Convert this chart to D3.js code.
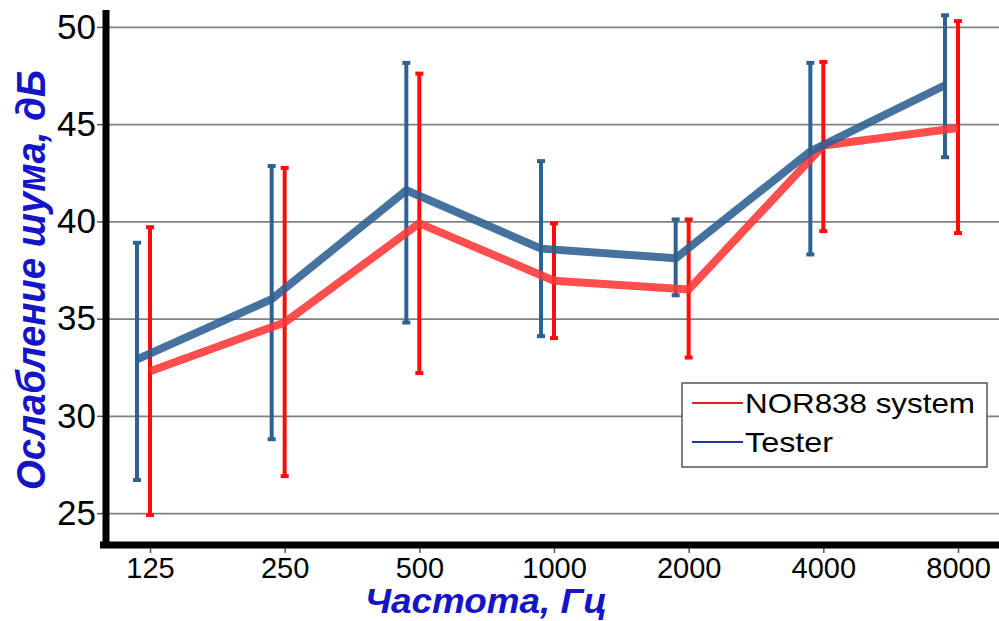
<!DOCTYPE html>
<html lang="ru">
<head>
<meta charset="utf-8">
<title>Ослабление шума</title>
<script src="https://d3js.org/d3.v7.min.js"></script>
<style>
  body { margin: 0; background: #fff; }
  svg { display: block; font-family: "Liberation Sans", Arial, sans-serif; }
  .grid line { stroke: #808080; stroke-width: 1.6; }
  .grid path { display: none; }
  .axis path { display: none; }
  .axis line { stroke: #555; stroke-width: 1.5; }
</style>
</head>
<body>
<div id="chart"></div>
<script>
// data
const freqs = ["125", "250", "500", "1000", "2000", "4000", "8000"];
const norMean = [32.3, 34.8, 39.9, 36.95, 36.5, 43.9, 44.8];
const norHigh = [39.7, 42.75, 47.6, 39.9, 40.1, 48.2, 50.3];
const norLow = [24.9, 26.9, 32.2, 34.0, 33.0, 39.5, 39.4];
const testMean = [32.9, 36.0, 41.6, 38.6, 38.1, 43.6, 47.0];
const testHigh = [38.9, 42.85, 48.15, 43.1, 40.1, 48.15, 50.6];
const testLow = [26.7, 28.8, 34.8, 34.1, 36.2, 38.3, 43.3];
const yTicks = [25, 30, 35, 40, 45, 50];
const seriesNames = ["NOR838 system", "Tester"];

const W = 999, H = 621;
const plotL = 106, plotR = 999, plotT = 10, plotB = 545;

const svg = d3.select("#chart").append("svg")
  .attr("width", W).attr("height", H);

const x = d3.scalePoint().domain(freqs).range([150, 958]);
const y = d3.scaleLinear().domain([23.36, 50.87]).range([plotB, plotT]);

// gridlines
svg.append("g")
  .attr("class", "grid")
  .attr("transform", "translate(" + plotL + ",0)")
  .call(d3.axisLeft(y).tickValues(yTicks).tickSize(-(plotR - plotL)).tickFormat(""));

// y axis labels + tick marks
const yAxis = svg.append("g")
  .attr("class", "axis")
  .attr("transform", "translate(" + (plotL - 3) + ",0)")
  .call(d3.axisLeft(y).tickValues(yTicks).tickSize(6).tickPadding(1));
yAxis.selectAll("text")
  .attr("font-size", 35).attr("fill", "#000").attr("font-family", "Liberation Sans, Arial, sans-serif");

// x axis labels + tick marks
const xAxis = svg.append("g")
  .attr("class", "axis")
  .attr("transform", "translate(0," + (plotB + 3) + ")")
  .call(d3.axisBottom(x).tickSize(5).tickPadding(4));
xAxis.selectAll("text")
  .attr("font-size", 29).attr("fill", "#000").attr("font-family", "Liberation Sans, Arial, sans-serif");

// thick black frame
svg.append("line").attr("x1", plotL).attr("x2", plotL).attr("y1", plotT).attr("y2", plotB + 3)
  .attr("stroke", "#000").attr("stroke-width", 7);
svg.append("line").attr("x1", plotL - 6).attr("x2", plotR).attr("y1", plotB).attr("y2", plotB)
  .attr("stroke", "#000").attr("stroke-width", 7);

const series = [
  {name: seriesNames[1], mean: testMean, hi: testHigh, lo: testLow, off: -13, bar: "#2e6194", line: "#2c5e93", legend: "#2233aa", tl: 88},
  {name: seriesNames[0], mean: norMean, hi: norHigh, lo: norLow, off: 0, bar: "#ff0d0d", line: "#ff3535", legend: "#dd2222", tl: 230}
];

// error bars
series.forEach(s => {
  const g = svg.append("g");
  freqs.forEach((f, i) => {
    const cx = x(f) + s.off;
    g.append("line").attr("x1", cx).attr("x2", cx)
      .attr("y1", y(s.hi[i])).attr("y2", y(s.lo[i]))
      .attr("stroke", s.bar).attr("stroke-width", 4);
    [s.hi[i], s.lo[i]].forEach(v => {
      g.append("line").attr("x1", cx - 4).attr("x2", cx + 4)
        .attr("y1", y(v)).attr("y2", y(v))
        .attr("stroke", s.bar).attr("stroke-width", 4);
    });
  });
});

// mean lines
const line = d3.line();
series.slice().reverse().forEach(s => {
  svg.append("path")
    .attr("d", line(freqs.map((f, i) => [x(f) + s.off, y(s.mean[i])])))
    .attr("fill", "none")
    .attr("stroke", s.line)
    .attr("stroke-width", 8)
    .attr("stroke-linejoin", "round")
    .attr("opacity", 0.88);
});

// legend
const lg = svg.append("g").attr("transform", "translate(682,383)");
lg.append("rect").attr("width", 305).attr("height", 84)
  .attr("fill", "#fff").attr("stroke", "#555").attr("stroke-width", 1.5);
[series[1], series[0]].forEach((s, i) => {
  const ly = 20 + i * 39;
  lg.append("line").attr("x1", 10).attr("x2", 61).attr("y1", ly).attr("y2", ly)
    .attr("stroke", s.legend).attr("stroke-width", 2.2);
  lg.append("text").attr("x", 63).attr("y", ly + 10)
    .attr("font-size", 28).attr("fill", "#000")
    .attr("textLength", s.tl).attr("lengthAdjust", "spacingAndGlyphs")
    .text(s.name);
});

// axis titles
svg.append("text")
  .attr("transform", "translate(45,280) rotate(-90)")
  .attr("text-anchor", "middle")
  .attr("font-size", 40).attr("font-weight", "bold").attr("font-style", "italic")
  .attr("fill", "#1515c8")
  .attr("textLength", 420).attr("lengthAdjust", "spacingAndGlyphs")
  .text("Ослабление шума, дБ");

svg.append("text")
  .attr("x", 486).attr("y", 613)
  .attr("text-anchor", "middle")
  .attr("font-size", 35).attr("font-weight", "bold").attr("font-style", "italic")
  .attr("fill", "#1515c8")
  .attr("textLength", 242).attr("lengthAdjust", "spacingAndGlyphs")
  .text("Частота, Гц");
</script>
</body>
</html>
